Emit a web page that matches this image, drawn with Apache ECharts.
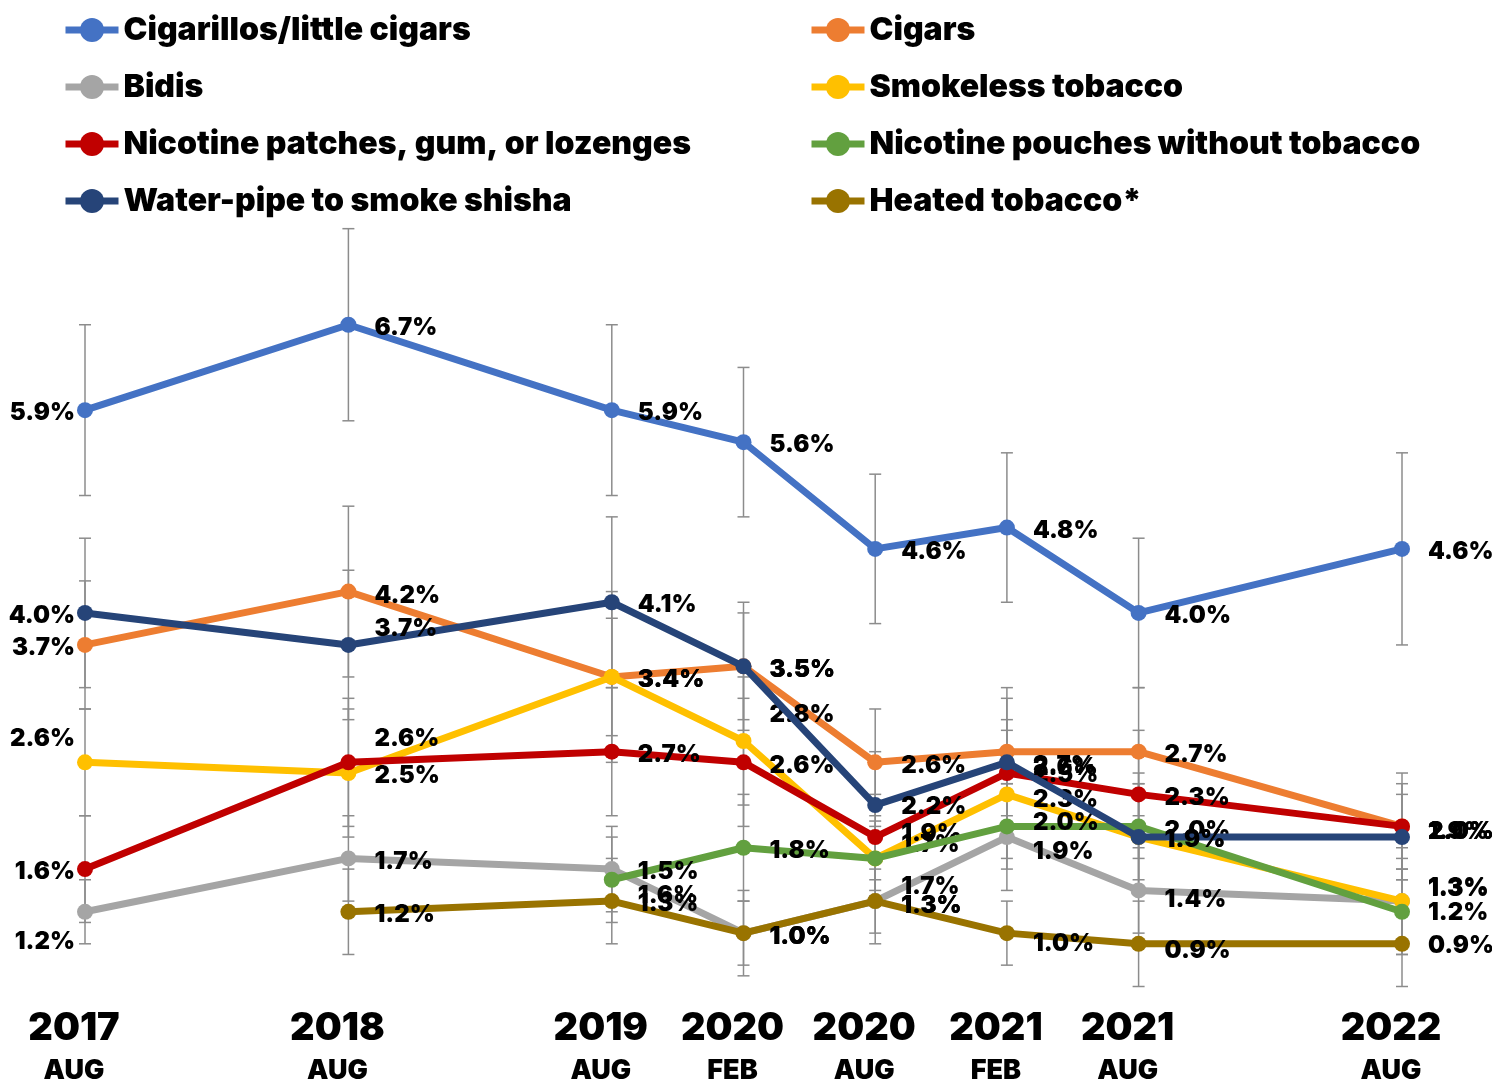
<!DOCTYPE html>
<html><head><meta charset="utf-8">
<script src="https://cdn.jsdelivr.net/npm/echarts@6/dist/echarts.min.js"></script>
<style>html,body{margin:0;padding:0;background:#fff}#c{width:1492px;height:1082px}</style>
</head><body><div id="c"></div>
<script>
// ---- data ----
const xPos = [0, 2, 4, 5, 6, 7, 8, 10]; // half-year steps from Aug 2017
const yearLabels = ['2017', '2018', '2019', '2020', '2020', '2021', '2021', '2022'];
const monthLabels = ['AUG', 'AUG', 'AUG', 'FEB', 'AUG', 'FEB', 'AUG', 'AUG'];

const names = ['Cigarillos/little cigars', 'Cigars', 'Bidis', 'Smokeless tobacco',
  'Nicotine patches, gum, or lozenges', 'Nicotine pouches without tobacco',
  'Water-pipe to smoke shisha', 'Heated tobacco*'];

const cigarillos = [5.9, 6.7, 5.9, 5.6, 4.6, 4.8, 4.0, 4.6];
const cigars     = [3.7, 4.2, 3.4, 3.5, 2.6, 2.7, 2.7, 2.0];
const bidis      = [1.2, 1.7, 1.6, 1.0, 1.3, 1.9, 1.4, 1.3];
const smokeless  = [2.6, 2.5, 3.4, 2.8, 1.7, 2.3, 1.9, 1.3];
const patches    = [1.6, 2.6, 2.7, 2.6, 1.9, 2.5, 2.3, 2.0];
const pouches    = [null, null, 1.5, 1.8, 1.7, 2.0, 2.0, 1.2];
const waterpipe  = [4.0, 3.7, 4.1, 3.5, 2.2, 2.6, 1.9, 1.9];
const heated     = [null, 1.2, 1.3, 1.0, 1.3, 1.0, 0.9, 0.9];

// half-widths of the confidence intervals
const cigarillosErr = [0.8, 0.9, 0.8, 0.7, 0.7, 0.7, 0.7, 0.9];
const cigarsErr     = [0.6, 0.8, 0.55, 0.5, 0.5, 0.6, 0.6, 0.5];
const bidisErr      = [0.3, 0.4, 0.4, 0.4, 0.3, 0.5, 0.4, 0.5];
const smokelessErr  = [0.5, 0.6, 0.8, 0.6, 0.35, 0.6, 0.5, 0.4];
const patchesErr    = [0.5, 0.6, 0.6, 0.6, 0.4, 0.5, 0.6, 0.4];
const pouchesErr    = [null, null, 0.4, 0.5, 0.3, 0.4, 0.5, 0.4];
const waterpipeErr  = [0.7, 0.7, 0.8, 0.6, 0.5, 0.6, 0.5, 0.4];
const heatedErr     = [null, 0.4, 0.4, 0.3, 0.4, 0.3, 0.4, 0.4];

// ---- style ----
const colors = ['#4472C4', '#ED7D31', '#A5A5A5', '#FFC000', '#C00000', '#62A03F', '#264478', '#997300'];
// vertical nudges of the data labels (px)
const labelDy = [
  [3, 3, 3, 3, 3, 3, 3, 3],
  [3, 4, 3, 3, 3, 14, 3, 5],
  [30, 3, 27, 4, 5, 15, 9, -13],
  [-24, 3, 3, -26, -14, 5, 3, -12],
  [3, -24, 3, 3, -3, 2, 3, 5],
  [0, 0, -8, 3, 28, -4, 4, 1],
  [3, -16, 3, 3, 2, 5, 3, -5],
  [0, 3, 3, 4, 5, 11, 7, 2]
];
const FONT = 'Inter';

const vals = [cigarillos, cigars, bidis, smokeless, patches, pouches, waterpipe, heated];
const errs = [cigarillosErr, cigarsErr, bidisErr, smokelessErr, patchesErr, pouchesErr, waterpipeErr, heatedErr];

const series = [];
const errData = [];
vals.forEach((arr, s) => {
  const data = [];
  arr.forEach((v, i) => {
    if (v == null) return;
    const first = (i === 0);
    data.push({
      value: [xPos[i], v],
      label: {
        position: first ? 'left' : 'right',
        distance: first ? 2 : 18,
        offset: [0, labelDy[s][i]]
      }
    });
    const e = errs[s][i];
    if (e != null) errData.push([xPos[i], v - e, v + e]);
  });
  series.push({
    name: names[s],
    type: 'line',
    data: data,
    z: 3 + s,
    symbol: 'circle',
    symbolSize: 16,
    lineStyle: { width: 7, color: colors[s] },
    itemStyle: { color: colors[s] },
    label: {
      show: true,
      formatter: p => p.value[1].toFixed(1) + '%',
      fontFamily: FONT, fontWeight: 900, fontSize: 24, color: '#000'
    },
    emphasis: { disabled: true }
  });
});

series.unshift({
  type: 'custom',
  silent: true,
  z: 1,
  clip: false,
  data: errData,
  encode: { x: 0, y: [1, 2] },
  renderItem: function (params, api) {
    const x = api.value(0), lo = api.value(1), hi = api.value(2);
    const a = api.coord([x, hi]), b = api.coord([x, lo]);
    const cap = 6;
    const st = { stroke: '#8c8c8c', lineWidth: 1.5 };
    return {
      type: 'group', children: [
        { type: 'line', shape: { x1: a[0], y1: a[1], x2: b[0], y2: b[1] }, style: st },
        { type: 'line', shape: { x1: a[0] - cap, y1: a[1], x2: a[0] + cap, y2: a[1] }, style: st },
        { type: 'line', shape: { x1: b[0] - cap, y1: b[1], x2: b[0] + cap, y2: b[1] }, style: st }
      ]
    };
  }
});

const legendCommon = {
  orient: 'vertical', top: 14, padding: 0, itemWidth: 53, itemHeight: 30, itemGap: 25,
  selectedMode: false,
  lineStyle: { width: 7 },
  textStyle: { fontFamily: FONT, fontWeight: 900, fontSize: 32, lineHeight: 32, color: '#000' }
};

const chart = echarts.init(document.getElementById('c'), null, { renderer: 'canvas' });
chart.setOption({
  animation: false,
  backgroundColor: '#fff',
  legend: [
    Object.assign({ left: 62, data: [names[0], names[2], names[4], names[6]] }, legendCommon),
    Object.assign({ left: 808, data: [names[1], names[3], names[5], names[7]] }, legendCommon)
  ],
  grid: { left: 85, right: 90, top: 218, bottom: 95.5, containLabel: false, outerBoundsMode: 'none' },
  xAxis: {
    type: 'value', min: 0, max: 10, interval: 1,
    axisLine: { show: false }, axisTick: { show: false }, splitLine: { show: false },
    axisLabel: {
      margin: 20,
      padding: [0, 22, 0, 0],
      formatter: function (v) {
        const i = xPos.indexOf(v);
        if (i < 0) return '';
        return '{y|' + yearLabels[i] + '}\n{m|' + monthLabels[i] + '}';
      },
      rich: {
        y: { fontFamily: FONT, fontWeight: 900, fontSize: 38, lineHeight: 44, color: '#000' },
        m: { fontFamily: FONT, fontWeight: 900, fontSize: 27, lineHeight: 40, color: '#000' }
      }
    }
  },
  yAxis: {
    type: 'value', min: 0.5, max: 7.7,
    show: false, splitLine: { show: false }
  },
  series: series
});
</script>
</body></html>
